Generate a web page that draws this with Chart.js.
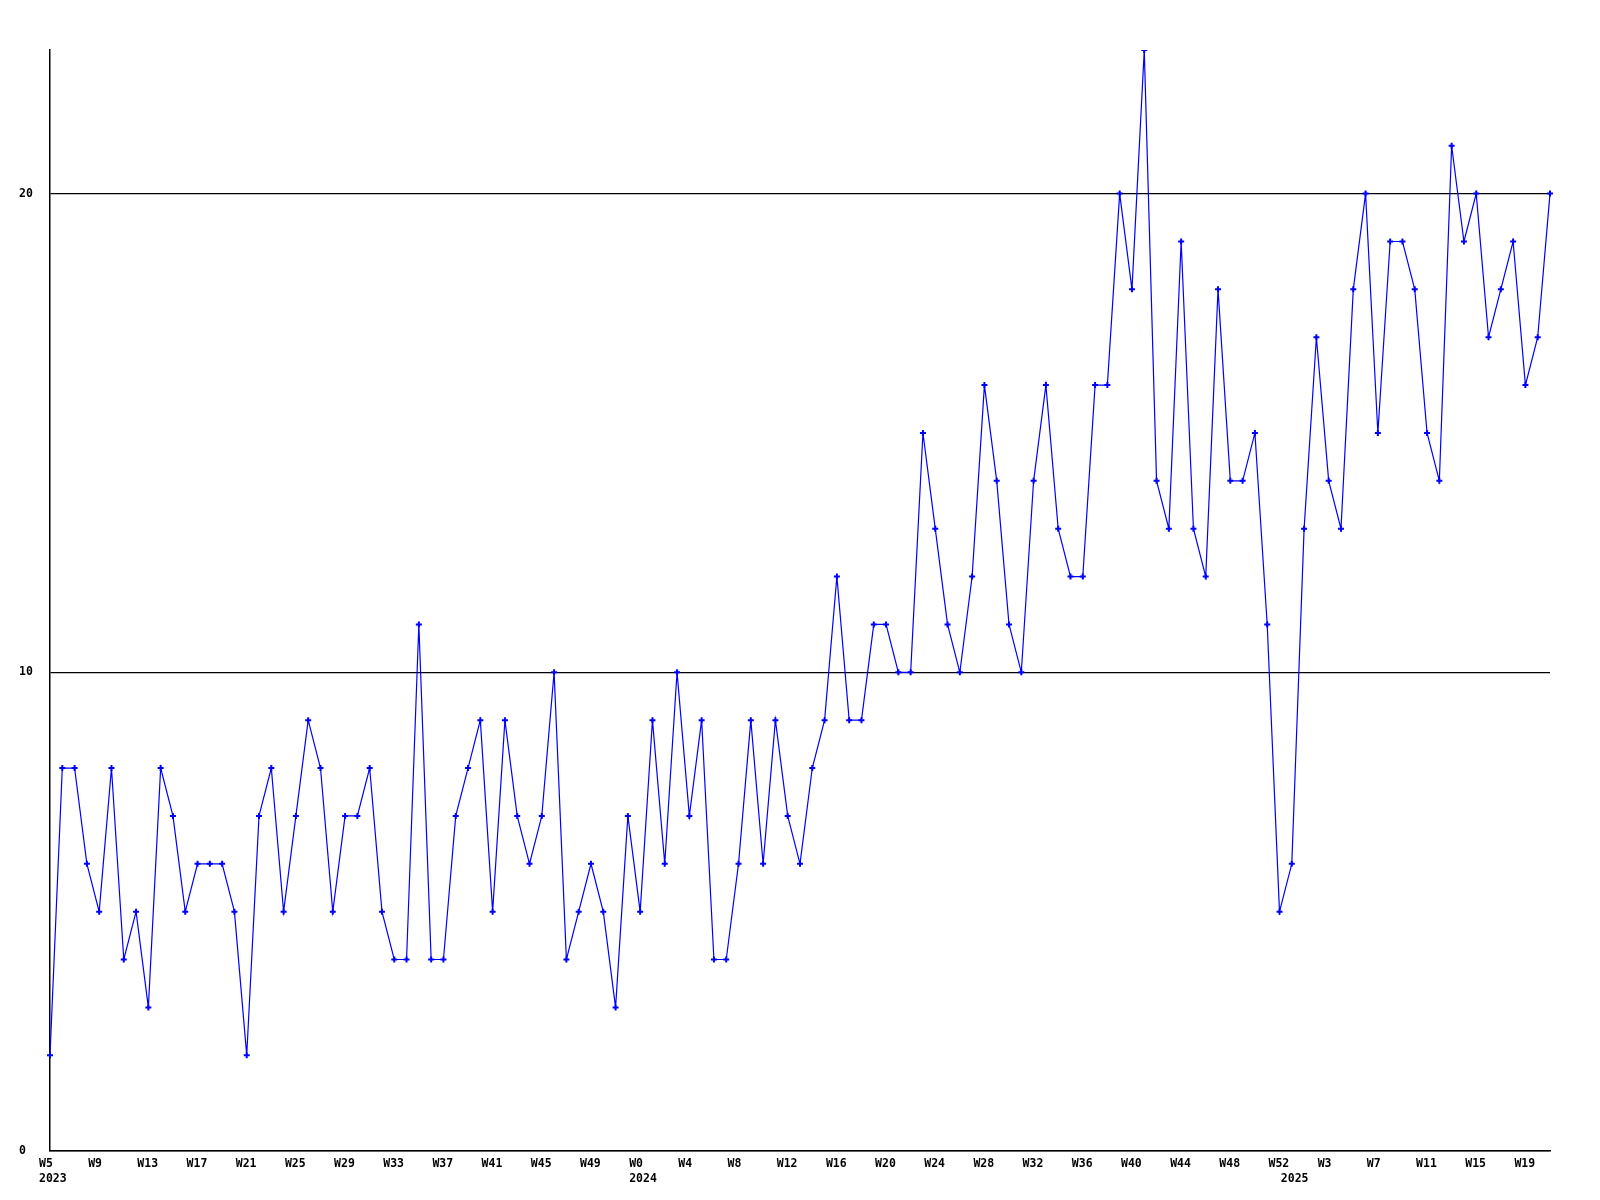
<!DOCTYPE html>
<html>
<head>
<meta charset="utf-8">
<script src="https://cdn.jsdelivr.net/npm/chart.js@4/dist/chart.umd.min.js"></script>
<style>
  html, body { margin: 0; padding: 0; background: #ffffff; }
  #wrap { width: 1600px; height: 1200px; }
</style>
</head>
<body>
<div id="wrap"><canvas id="c" width="1600" height="1200"></canvas></div>
<script>
// ---- data ----
const years = [2023, 2024, 2025];
const firstWeek = [5, 0, 0];
const lastWeek = [52, 52, 21];

const counts2023 = [2, 8, 8, 6, 5, 8, 4, 5, 3, 8, 7, 5, 6, 6, 6, 5, 2, 7, 8, 5,
                    7, 9, 8, 5, 7, 7, 8, 5, 4, 4, 11, 4, 4, 7, 8, 9, 5, 9, 7, 6,
                    7, 10, 4, 5, 6, 5, 3, 7];
const counts2024 = [5, 9, 6, 10, 7, 9, 4, 4, 6, 9, 6, 9, 7, 6, 8, 9, 12, 9, 9, 11,
                    11, 10, 10, 15, 13, 11, 10, 12, 16, 14, 11, 10, 14, 16, 13, 12, 12, 16, 16, 20,
                    18, 23, 14, 13, 19, 13, 12, 18, 14, 14, 15, 11, 5];
const counts2025 = [6, 13, 17, 14, 13, 18, 20, 15, 19, 19, 18, 15, 14, 21, 19, 20, 17, 18, 19, 16,
                    17, 20];

const yTicks = [0, 10, 20];
const yMax = 23;
const labelEvery = 4;

// ---- build categories ----
const categories = [];
const yearStartIndex = {};
years.forEach((y, k) => {
  yearStartIndex[categories.length] = String(y);
  for (let w = firstWeek[k]; w <= lastWeek[k]; w++) categories.push('W' + w);
});
const values = counts2023.concat(counts2024, counts2025);

const FONT = { family: 'DejaVu Sans Mono', size: 11.5, weight: 'bold', lineHeight: 15 / 11.5 };

new Chart(document.getElementById('c'), {
  type: 'line',
  data: {
    labels: categories,
    datasets: [{
      data: values,
      borderColor: '#0000ff',
      backgroundColor: '#0000ff',
      borderWidth: 1.2,
      tension: 0,
      fill: false,
      pointStyle: 'cross',
      pointRadius: 3,
      pointBorderWidth: 2,
      pointBorderColor: '#0000ff',
      pointHoverRadius: 3
    }]
  },
  options: {
    responsive: false,
    animation: false,
    devicePixelRatio: 1,
    layout: { padding: { left: 19, right: 50, top: 50, bottom: 0 } },
    plugins: { legend: { display: false }, tooltip: { enabled: false } },
    scales: {
      x: {
        type: 'category',
        offset: false,
        grid: { display: false, drawTicks: false },
        border: { display: true, color: '#000000', width: 1.5 },
        afterFit: s => { s.height = 49; },
        ticks: {
          autoSkip: false,
          maxRotation: 0,
          minRotation: 0,
          align: 'start',
          labelOffset: -11,
          padding: 6,
          color: '#000000',
          font: FONT,
          callback: function (value, index) {
            const w = index % labelEvery === 0 ? categories[index] : '';
            const yr = yearStartIndex[index];
            if (yr !== undefined) return [w, yr];
            return w;
          }
        }
      },
      y: {
        min: 0,
        max: yMax,
        afterBuildTicks: s => { s.ticks = yTicks.map(v => ({ value: v })); },
        afterFit: s => { s.width = 31; },
        grid: { display: true, color: '#000000', lineWidth: 1.2, drawTicks: false },
        border: { display: true, color: '#000000', width: 1.5 },
        ticks: {
          crossAlign: 'far',
          padding: 0,
          color: '#000000',
          font: FONT
        }
      }
    }
  }
});
</script>
</body>
</html>
